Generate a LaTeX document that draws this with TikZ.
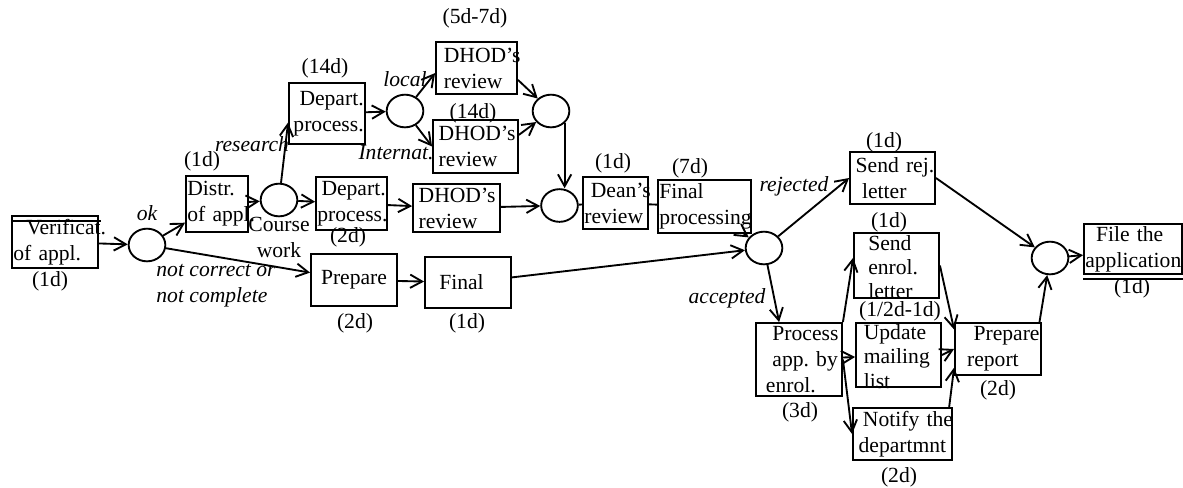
\documentclass[tikz,border=0pt]{standalone}
\usepackage{fontspec}
\setmainfont{Liberation Serif}
\usetikzlibrary{shapes.geometric,arrows.meta}

\newcommand{\flowfont}{\fontsize{16.2pt}{19.5pt}\selectfont}

\tikzstyle{task}=[draw,line width=1.4pt,rectangle,inner xsep=1pt,inner ysep=0pt,align=left,font=\flowfont,
                  execute at begin node={\hyphenpenalty=10000\exhyphenpenalty=10000}]
\tikzstyle{junction}=[draw,line width=1.4pt,ellipse,minimum width=27.5pt,minimum height=24.5pt,inner sep=0pt]
\tikzstyle{edge}=[draw,line width=1.4pt,-{Straight Barb[length=9pt,width=10pt]}]
\tikzstyle{link}=[draw,line width=1.4pt]
\tikzstyle{days}=[font=\flowfont,inner sep=0pt]
\tikzstyle{cond}=[font=\flowfont\itshape,inner sep=0pt,align=left]

\begin{document}
\begin{tikzpicture}[x=0.75pt,y=-0.75pt]
\useasboundingbox (0,0) rectangle (1183,487);

% tasks
\node[task,text width=62.5pt,minimum height=39pt] (verif) at (55,242) {\hspace*{0.6em}Verificat.\\of~appl.};
\node[task,text width=44.5pt,minimum height=42pt] (distr) at (217,204) {Distr.\\of~appl.};
\node[task,align=right,text width=55pt,minimum height=45.75pt] (dep1) at (327,113.5) {Depart.\\process.};
\node[task,align=right,text width=51.25pt,minimum height=39.75pt] (dep2) at (351.5,203.5) {Depart.\\process.};
\node[task,text width=58.75pt,minimum height=39pt] (dhod1) at (476.5,68) {\hspace*{0.3em}DHOD’s\\\hspace*{0.3em}review};
\node[task,text width=61.75pt,minimum height=39.75pt] (dhod2) at (475.5,146.5) {\hspace*{0.2em}DHOD’s\\\hspace*{0.2em}review};
\node[task,text width=63.25pt,minimum height=36pt] (dhod3) at (456.5,208) {\hspace*{0.2em}DHOD’s\\\hspace*{0.2em}review};
\node[task,text width=46.75pt,minimum height=39pt] (dean) at (615.5,203) {\hspace*{0.3em}Dean’s\\review};
\node[task,text width=67.75pt,minimum height=39.75pt] (finproc) at (704.5,206.5) {Final\\processing};
\node[task,align=center,text width=62.5pt,minimum height=39pt] (prep) at (354,280) {Prepare};
\node[task,text width=62.5pt,minimum height=38.25pt] (final) at (468,282.5) {\hspace*{0.6em}Final};
\node[task,text width=61.75pt,minimum height=39pt] (sendrej) at (892.5,178) {\hspace*{0.2em}Send~rej.\\\hspace*{0.5em}letter};
\node[task,font=\fontsize{16.2pt}{18pt}\selectfont,text height=11pt,text depth=33pt,text width=61.75pt,minimum height=48.75pt] (sendenrol) at (896.5,265.5) {\hspace*{0.6em}Send\\\hspace*{0.6em}enrol.\\\hspace*{0.6em}letter};
\node[task,font=\fontsize{16.2pt}{18.4pt}\selectfont,text height=11pt,text depth=35pt,text width=61.75pt,minimum height=48pt] (update) at (898.5,355) {\hspace*{0.3em}Update\\\hspace*{0.3em}mailing\\\hspace*{0.3em}list};
\node[task,text width=62.5pt,minimum height=54.75pt] (process) at (799,359.5) {\hspace*{0.7em}Process\\\hspace*{0.7em}app.~by\\\hspace*{0.4em}enrol.};
\node[task,text width=72.25pt,minimum height=39pt] (notify) at (902.5,434) {\hspace*{0.4em}Notify~the\\\hspace*{0.2em}departmnt};
\node[task,text width=62.5pt,minimum height=39pt] (prepreport) at (998,349) {\hspace*{0.8em}Prepare\\\hspace*{0.5em}report};
\node[task,text width=71.5pt,minimum height=37.5pt] (file) at (1133,249) {\hspace*{0.5em}File~the\\application};

% double rules
\draw[line width=1.4pt] ([yshift=-4.5pt]verif.north west) -- ([yshift=-4.5pt,xshift=1.5pt]verif.north east);
\draw[line width=1.4pt] ([yshift=-3pt]file.south west) -- ([yshift=-3pt]file.south east);

% junctions
\foreach \pos/\name in {{(147,245)/j1}, {(279,200)/j2}, {(764,248)/j3}, {(559.5,205.5)/j4},
                         {(405,111)/j5}, {(551,111)/j6}, {(1050,258)/j7}}{
  \node[junction] (\name) at \pos {};
}

% durations
\foreach \pos/\name/\txt in {{(50,281)/dverif/(1d)}, {(202,161)/ddistr/(1d)}, {(325,68)/ddep1/(14d)},
                         {(475,18)/ddhod1/(5d-7d)}, {(473,113)/ddhod2/(14d)}, {(348,237)/ddep2/(2d)},
                         {(613,163)/ddean/(1d)}, {(690,168)/dfinproc/(7d)}, {(355,323)/dprep/(2d)},
                         {(467,323)/dfinal/(1d)}, {(884,142)/dsendrej/(1d)}, {(889,222)/dsendenrol/(1d)},
                         {(900,311)/dupdate/{(1/2d-1d)}}, {(800,412)/dprocess/(3d)},
                         {(998,390)/dprepreport/(2d)}, {(899,477)/dnotify/(2d)}, {(1132,288)/dfile/(1d)}}{
  \node[days] (\name) at \pos {\txt};
}

% conditions
\node[cond] (ok) at (147,213) {ok};
\node[cond] (research) at (252,144) {research};
\node[cond] (local) at (405,79) {local};
\node[cond] (internat) at (396,153) {Internat.};
\node[cond] (notok) at (216,286) {not correct or\\not complete};
\node[cond] (rejected) at (794,186) {rejected};
\node[cond] (accepted) at (727,298) {accepted};
\node[days,align=center] (course) at (279,237) {Course\\work};

% connectors
\foreach \source/\dest in {verif/j1, j1/distr, distr/j2, j2/dep1.193, dep1/j5,
                           j5/dhod1.187, j5/dhod2.west, dhod1.344/j6, dhod2.15/j6,
                           j2/dep2, dep2/dhod3, dhod3/j4, finproc/j3,
                           j1/prep, prep/final, final/j3,
                           j3/sendrej.west, j3/process.118,
                           process.north east/sendenrol.170, process/update, process.east/notify.west,
                           sendenrol.east/prepreport.156, update.east/prepreport.west,
                           notify.30/prepreport.203, prepreport.33/j7, sendrej.east/j7, j7/file.187}{
  \path[edge] (\source) -- (\dest);
}
\path[edge] (j6.south east) -- (j6.south east |- j4.north);
\path[link] (j4) -- (dean);
\path[link] (dean) -- (finproc);
\end{tikzpicture}
\end{document}
